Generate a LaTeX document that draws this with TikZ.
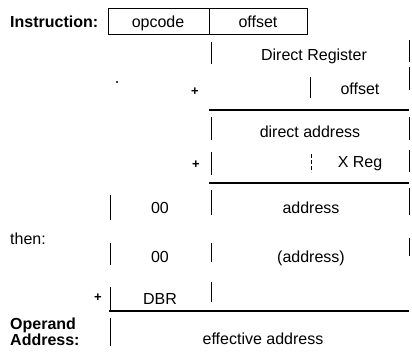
\documentclass[tikz,border=0pt]{standalone}
\usepackage{fontspec}
\setmainfont{Liberation Sans}
\begin{document}
\begin{tikzpicture}[x=1pt,y=-1pt,
  lbl/.style={font=\fontsize{16}{18}\selectfont, inner sep=0pt, anchor=base},
  head/.style={font=\fontsize{16}{16}\selectfont\bfseries, inner sep=0pt, anchor=base west},
  plus/.style={font=\fontsize{13}{13}\selectfont\bfseries, inner sep=0pt},
  bar/.style={line width=1pt},
  rulebar/.style={line width=1.1pt},
  dashbar/.style={line width=1pt, dash pattern=on 4pt off 2pt}]
\useasboundingbox (0,0) rectangle (412,351);

% instruction format
\node[head] (instr) at (10,27) {Instruction:};
\draw[bar] (108,8) rectangle (307,34);
\draw[bar] (209,8) -- (209,34);
\node[lbl] (opcode) at (158,27) {opcode};
\node[lbl] (offA) at (258,27) {offset};

% direct register + offset
\draw[bar] (211,42) -- (211,64);
\draw[bar] (409,40) -- (409,62);
\node[lbl] (dreg) at (314,60) {Direct Register};
\node[plus] (p1) at (195,92) {+};
\fill (117,82) circle (1.2);
\draw[bar] (310,77) -- (310,98);
\draw[bar] (409,67) -- (409,90);
\node[lbl] (offB) at (360,94) {offset};
\draw[rulebar] (209,110) -- (409,110);

% direct address + X register
\draw[bar] (211,117) -- (211,140);
\draw[bar] (409,117) -- (409,140);
\node[lbl] (daddr) at (310,137) {direct address};
\node[plus] (p2) at (196,165) {+};
\draw[bar] (211,152) -- (211,175);
\draw[dashbar] (311,154) -- (311,172);
\draw[bar] (409,150) -- (409,172);
\node[lbl] (xreg) at (360,167) {X Reg};
\draw[rulebar] (209,183) -- (409,183);

% address fetched from direct page
\draw[bar] (110,195) -- (110,220);
\draw[bar] (211,190) -- (211,215);
\draw[bar] (409,188) -- (409,215);
\node[lbl] (zA) at (160,213) {00};
\node[lbl] (addr) at (311,213) {address};

\node[lbl, anchor=base west] (then) at (10,244) {then:};

% indirect address + data bank register
\draw[bar] (110,243) -- (110,265);
\draw[bar] (211,243) -- (211,262);
\draw[bar] (409,238) -- (409,256);
\node[lbl] (zB) at (160,262) {00};
\node[lbl] (iaddr) at (311,262) {(address)};
\node[plus] (p3) at (98,298) {+};
\draw[bar] (110,287) -- (110,310);
\draw[bar] (211,282) -- (211,302);
\node[lbl] (dbr) at (160,304) {DBR};
\draw[rulebar] (109,311) -- (409,311);

% resulting operand address
\node[head] (oper) at (10,329) {Operand};
\node[head] (addrlbl) at (10,345) {Address:};
\draw[bar] (110,318) -- (110,346);
\node[lbl] (eff) at (263,344) {effective address};
\end{tikzpicture}
\end{document}
